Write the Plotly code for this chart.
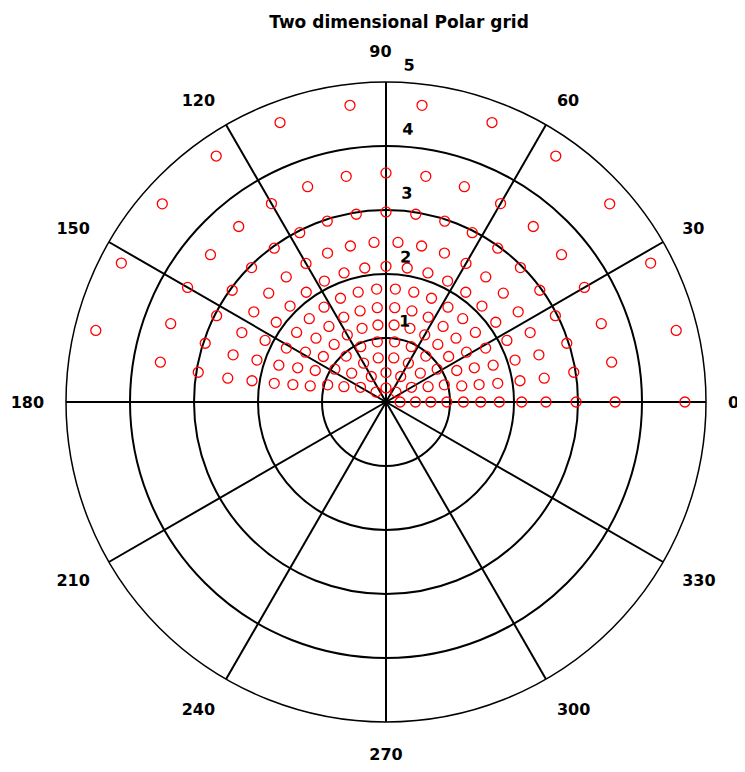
import plotly.graph_objects as go

# Radii of the rings of grid points (read along the 0-degree ray)
ring_radii = [0.22, 0.46, 0.70, 0.95, 1.21, 1.48, 1.77, 2.12, 2.50, 2.97, 3.58, 4.67]
# Number of equally spaced points per ring over [0, 180) degrees
ring_counts = [4, 6, 9, 11, 15, 17, 19, 20, 21, 20, 18, 13]

angle_ticks = [0, 30, 60, 90, 120, 150, 180, 210, 240, 270, 300, 330]
angle_text = ["0", "30", "60", "90\u2007", "120", "150", "180", "210", "240", "270", "300", "330"]
radial_ticks = [1, 2, 3, 4, 5]

r_pts, t_pts = [], []
for rad, n in zip(ring_radii, ring_counts):
    for k in range(n):
        r_pts.append(rad)
        t_pts.append(k * 180.0 / n)

fig = go.Figure()
fig.add_trace(go.Scatterpolar(
    r=r_pts, theta=t_pts, mode="markers",
    marker=dict(symbol="circle-open", size=10, color="red", line=dict(width=1.3, color="red")),
    showlegend=False, hoverinfo="skip"))
# empty trace so the label-only overlay subplot is drawn
fig.add_trace(go.Scatterpolar(r=[], theta=[], subplot="polar2", showlegend=False, hoverinfo="skip"))

# page has an 8px body margin; work in figure coordinates
W, H = 737, 764
cx, cy, R = 378, 394, 320
px_per_unit = R / 5.0
lab_off = 17.0            # radial labels sit ~17px beyond their circle
R2 = 345
r0 = -lab_off / px_per_unit
fig.update_layout(
    width=W, height=H,
    margin=dict(l=0, r=0, t=0, b=0),
    paper_bgcolor="white",
    font=dict(family="DejaVu Sans, Liberation Sans, sans-serif", size=16, color="black"),
    title=dict(text="<b>Two dimensional Polar grid</b>", x=391 / W, xanchor="center", y=1 - 14 / H,
               yanchor="middle", font=dict(size=17, color="black")),
    polar=dict(
        domain=dict(x=[(cx - R) / W, (cx + R) / W], y=[(H - cy - R) / H, (H - cy + R) / H]),
        bgcolor="white",
        angularaxis=dict(
            rotation=0, direction="counterclockwise",
            tickmode="array", tickvals=angle_ticks, ticktext=angle_text,
            showgrid=True, gridcolor="black", gridwidth=1.5,
            showline=True, linecolor="black", linewidth=1.5,
            ticks="outside", ticklen=18, tickcolor="rgba(0,0,0,0)",
            tickfont=dict(size=16, color="black", weight="bold"),
        ),
        radialaxis=dict(
            range=[0, 5], angle=90,
            tickmode="array", tickvals=radial_ticks,
            showgrid=True, gridcolor="black", gridwidth=1.5,
            showline=False, ticks="", showticklabels=False,
        ),
    ),
    polar2=dict(
        domain=dict(x=[(cx - R2) / W, (cx + R2) / W], y=[(H - cy - R2) / H, (H - cy + R2) / H]),
        bgcolor="rgba(0,0,0,0)",
        angularaxis=dict(visible=False),
        radialaxis=dict(
            range=[r0, r0 + R2 / px_per_unit], angle=89, tickangle=90, side="clockwise",
            tickmode="array", tickvals=radial_ticks,
            ticktext=["\u2007" + str(v) for v in radial_ticks],
            showgrid=False, showline=False, ticks="",
            tickfont=dict(size=16, color="black", weight="bold"),
        ),
    ),
)
fig.write_html("out.html")
